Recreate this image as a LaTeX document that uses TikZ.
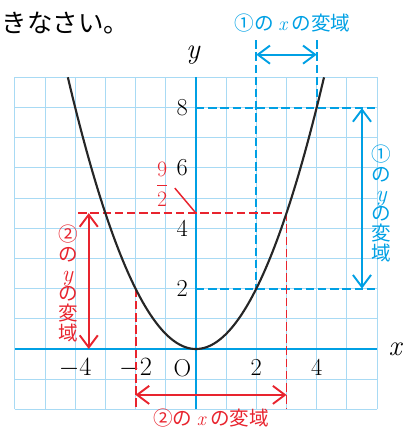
\documentclass[tikz,border=0pt]{standalone}
\usepackage{amsmath}
\usepackage{fontspec}
\newfontfamily\jp{Noto Sans CJK JP}
\usetikzlibrary{arrows.meta}

\definecolor{ucyan}{RGB}{0,160,228}
\definecolor{ured}{RGB}{232,36,46}
\definecolor{ugrid}{RGB}{168,218,244}

\newcommand{\vi}[1]{{\rmfamily\itshape #1}}
\newcommand{\vy}{{\fontsize{22}{18.5}\selectfont\rmfamily\itshape y\kern1pt}}

\begin{document}
\begin{tikzpicture}[
    gridline/.style={ugrid, line width=0.9pt},
    axis/.style={ucyan, line width=2.2pt},
    curve/.style={black!85, line width=2pt},
    cdash/.style={draw=ucyan, line width=1.8pt, dash pattern=on 8pt off 3.5pt},
    rdash/.style={draw=ured, line width=1.8pt, dash pattern=on 8pt off 3.5pt},
    ar/.style={{Straight Barb[length=4mm,width=6mm]}-{Straight Barb[length=4mm,width=6mm]}, line width=1.8pt},
    num/.style={font=\fontsize{23}{23}\selectfont},
    lab/.style={font=\jp\fontsize{18.5}{18.5}\selectfont, align=center}]

\useasboundingbox (-6.49,-2.65) rectangle (7.22,11.56);

% Grid and axes
\draw[gridline] (-6,-2) grid (6,9);
\coordinate (xl) at (-6,0);
\coordinate (xr) at (6,0);
\coordinate (yb) at (0,-2);
\coordinate (yt) at (0,9);
\draw[axis] (xl) -- (xr);
\draw[axis] (yb) -- (yt);
\node[font=\fontsize{27}{27}\selectfont] (xlab) at (6.6,0) {\vi{x}};
\node[font=\fontsize{27}{27}\selectfont] (ylab) at (-0.1,9.75) {\vi{y}};

% Tick labels
\foreach \k in {2,4,6,8}
    \node[num] (n\k) at (-0.45,\k) {\k};
\node[num] (m4) at (-4,-0.62) {$-4$};
\node[num] (m2) at (-2,-0.62) {$-2$};
\node[num] (o) at (-0.45,-0.62) {O};
\node[num] (p2) at (2,-0.62) {2};
\node[num] (p4) at (4,-0.62) {4};

% Range (1), cyan
\coordinate (c1) at (2,10.23);
\coordinate (c2) at (2,2);
\coordinate (c3) at (4,10.23);
\coordinate (c4) at (4,7.98);
\coordinate (c5) at (0,7.98);
\coordinate (c6) at (6,7.98);
\coordinate (c7) at (0,2);
\coordinate (c8) at (6,2);
\draw[cdash] (c1) -- (c2);
\draw[cdash] (c3) -- (c4);
\draw[cdash] (c5) -- (c6);
\draw[cdash] (c7) -- (c8);
\coordinate (ax1) at (2,9.75);
\coordinate (ax2) at (4,9.75);
\coordinate (ay1) at (5.5,7.98);
\coordinate (ay2) at (5.5,2);
\draw[ar, draw=ucyan] (ax1) -- (ax2);
\draw[ar, draw=ucyan] (ay1) -- (ay2);
\node[lab, text=ucyan] (l1) at (3.2,10.8) {①の \vi{x} の変域};
\node[lab, text=ucyan] (l2) at (6.15,4.82) {①\\の\\\vy\\の\\変\\域};

% Range (2), red
\coordinate (r1) at (-3.9,4.5);
\coordinate (r2) at (3,4.5);
\coordinate (r3) at (3,-2);
\coordinate (r4) at (-2,2);
\coordinate (r5) at (-2,-2);
\draw[rdash] (r1) -- (r2) -- (r3);
\draw[rdash] (r4) -- (r5);
\coordinate (bx1) at (-2,-1.52);
\coordinate (bx2) at (3,-1.52);
\coordinate (vy1) at (-3.55,4.5);
\coordinate (vy2) at (-3.55,0);
\draw[ar, draw=ured] (bx1) -- (bx2);
\draw[ar, draw=ured] (vy1) -- (vy2);
\node[lab, text=ured] (l3) at (0.5,-2.28) {②の \vi{x} の変域};
\node[lab, text=ured] (l4) at (-4.24,2.17) {②\\の\\\vy\\の\\変\\域};
\node[text=ured, font=\fontsize{21}{21}\selectfont] (f) at (-1.12,5.46) {$\dfrac{9}{2}$};
\coordinate (f1) at (-0.7,5.33);
\coordinate (f2) at (0,4.5);
\draw[draw=ured, line width=1.4pt] (f1) -- (f2);

% Parabola
\draw[curve] plot[domain=-4.243:4.243, samples=120] (\x,{\x*\x/2});

% Text above
\node[anchor=west, font=\jp\fontsize{24}{24}\selectfont] (t) at (-6.55,10.8) {きなさい。};

\end{tikzpicture}
\end{document}
